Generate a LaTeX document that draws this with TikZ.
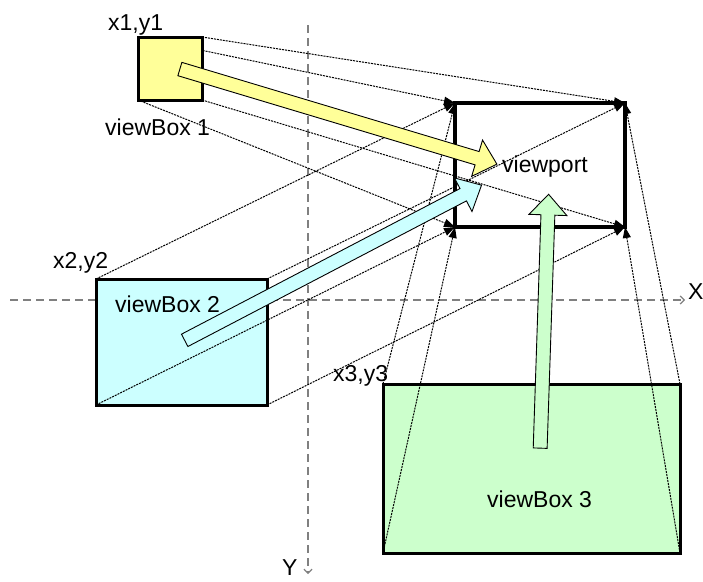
\documentclass[tikz,border=0pt]{standalone}
\usepackage{fontspec}
\setmainfont{Liberation Sans}
\usetikzlibrary{arrows.meta,shapes.arrows,backgrounds}

\definecolor{boxyellow}{HTML}{FFFF99}
\definecolor{boxcyan}{HTML}{CCFFFF}
\definecolor{boxgreen}{HTML}{CCFFCC}

\begin{document}
\begin{tikzpicture}[x=1pt, y=-1pt,
    box/.style={draw, line width=3pt, inner sep=0pt, outer sep=0pt},
    proj/.style={line width=1pt, dash pattern=on 2pt off 1pt, -{Triangle[length=11pt,width=8pt]}},
    axis/.style={gray, line width=1.2pt, dash pattern=on 8pt off 5pt, -{Straight Barb[length=4pt,width=8pt]}},
    bigarrow/.style={single arrow, draw, line width=0.9pt, inner xsep=0pt, inner ysep=6.5pt,
        single arrow head extend=12pt, single arrow tip angle=85},
    lbl/.style={font=\fontsize{23}{27}\selectfont, inner sep=0pt, anchor=base west}]
    \useasboundingbox (0,0) rectangle (703,581);

    % Boxes
    \node[box, fill=boxyellow, minimum width=64pt, minimum height=63pt] (vb1) at (170,68.5) {};
    \node[box, fill=boxcyan, minimum width=171pt, minimum height=126pt] (vb2) at (181.5,342) {};
    \node[box, fill=boxgreen, minimum width=297pt, minimum height=169pt] (vb3) at (531.5,468.5) {};
    \node[box, line width=4pt, minimum width=170pt, minimum height=124pt] (vp) at (540,165) {};

    % Axes and the lines of viewBox 1 go behind the boxes
    \coordinate (xstart) at (10,300);
    \coordinate (xend) at (685,300);
    \coordinate (ystart) at (308,25);
    \coordinate (yend) at (308,574);
    \begin{scope}[on background layer]
        \draw[axis] (xstart) -- (xend);
        \draw[axis] (ystart) -- (yend);
        \foreach \c in {north west, north east, south west, south east}
            \draw[proj] (vb1.\c) -- (vp.\c);
    \end{scope}

    % Lines of viewBox 2 and 3
    \foreach \v in {vb2, vb3}
        \foreach \c in {north west, north east, south west, south east}
            \draw[proj] (\v.\c) -- (vp.\c);

    % Big arrows
    \node[bigarrow, fill=boxyellow, minimum height=331pt, rotate=-16.7] (arr1) at (334.75,115.5) {};
    \node[bigarrow, fill=boxcyan, minimum height=335pt, rotate=27.6] (arr2) at (329.75,264.5) {};
    \node[bigarrow, fill=boxgreen, minimum height=254pt, rotate=88.1] (arr3) at (544.25,325) {};

    % Labels
    \node[lbl] (l1) at (108,30) {x1,y1};
    \node[lbl] (n1) at (105,135) {viewBox 1};
    \node[lbl] (l2) at (53,268) {x2,y2};
    \node[lbl] (n2) at (115,312) {viewBox 2};
    \node[lbl] (l3) at (333,381) {x3,y3};
    \node[lbl] (n3) at (487,507) {viewBox 3};
    \node[lbl] (nvp) at (502,172) {viewport};
    \node[lbl] (ylbl) at (282,575) {Y};
    \node[lbl] (xlbl) at (688,299) {X};
\end{tikzpicture}
\end{document}
